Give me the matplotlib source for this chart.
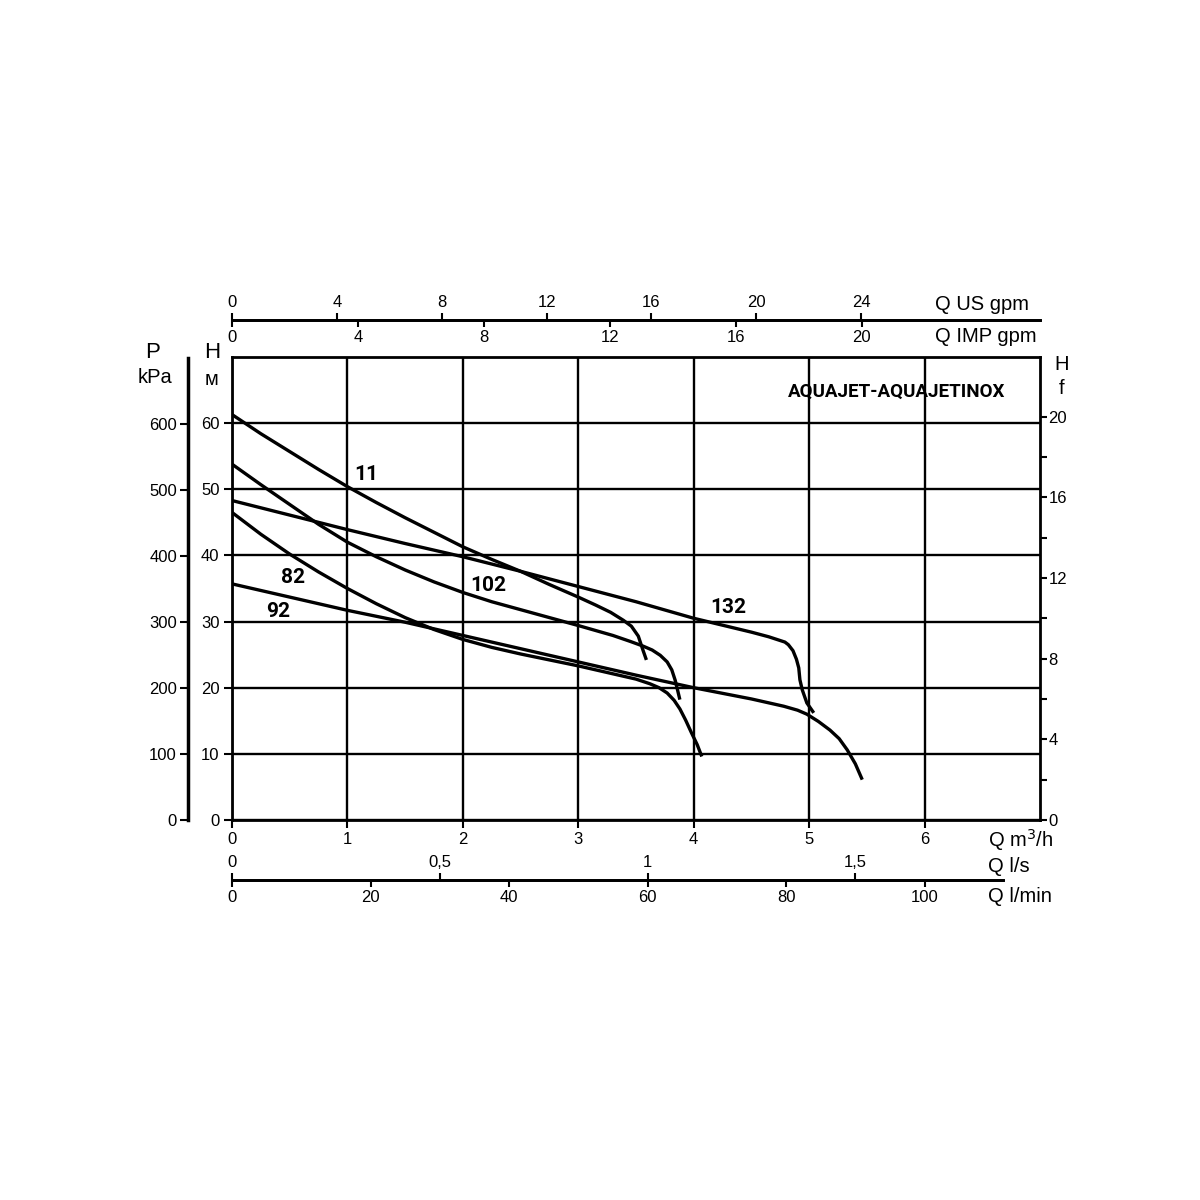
import numpy as np
import matplotlib
matplotlib.use('Agg')
import matplotlib.pyplot as plt
from matplotlib.ticker import FixedLocator, FuncFormatter

plt.rc('font', family=['Liberation Sans', 'DejaVu Sans'], size=12)

# curves, Q in m3/h, H in m
q_11 = [0, 0.25, 0.5, 0.75, 1.0, 1.25, 1.5, 1.75, 2.0, 2.25, 2.5, 2.75, 3.0, 3.15, 3.28, 3.39, 3.46, 3.52, 3.56, 3.59]
h_11 = [61.3, 58.4, 55.7, 53.0, 50.4, 48.0, 45.7, 43.5, 41.3, 39.4, 37.6, 35.6, 33.7, 32.5, 31.4, 30.2, 29.3, 27.8, 25.7, 24.2]

q_102 = [0, 0.25, 0.5, 0.75, 1.0, 1.25, 1.5, 1.75, 2.0, 2.25, 2.5, 2.75, 3.0, 3.3, 3.45, 3.56, 3.64, 3.71, 3.77, 3.81, 3.84, 3.88]
h_102 = [53.8, 50.7, 47.7, 44.7, 42.0, 39.8, 37.8, 36.0, 34.4, 33.0, 31.8, 30.6, 29.4, 27.9, 27.0, 26.3, 25.7, 24.9, 23.9, 22.7, 21.1, 18.2]

q_132 = [0, 0.5, 1.0, 1.5, 2.0, 2.5, 3.0, 3.5, 4.0, 4.5, 4.65, 4.72, 4.79, 4.82, 4.86, 4.89, 4.91, 4.92, 4.94, 4.98, 5.04]
h_132 = [48.3, 46.1, 43.9, 41.8, 39.8, 37.6, 35.3, 33.0, 30.5, 28.4, 27.7, 27.3, 26.9, 26.5, 25.6, 24.3, 23.0, 21.2, 19.7, 17.7, 16.2]

q_82 = [0, 0.25, 0.5, 0.75, 1.0, 1.25, 1.5, 1.75, 2.0, 2.25, 2.5, 2.75, 3.0, 3.25, 3.5, 3.62, 3.7, 3.77, 3.83, 3.88, 3.93, 3.98, 4.03, 4.07]
h_82 = [46.5, 43.2, 40.2, 37.5, 35.0, 32.7, 30.6, 28.8, 27.3, 26.1, 25.1, 24.2, 23.3, 22.3, 21.3, 20.6, 20.0, 19.2, 18.1, 16.8, 15.1, 13.2, 11.4, 9.6]

q_92 = [0, 0.5, 1.0, 1.5, 2.0, 2.5, 3.0, 3.5, 4.0, 4.5, 4.78, 4.9, 4.98, 5.08, 5.18, 5.26, 5.33, 5.4, 5.46]
h_92 = [35.7, 33.7, 31.7, 29.9, 27.9, 25.9, 23.9, 21.9, 20.0, 18.3, 17.2, 16.6, 16.0, 14.9, 13.6, 12.3, 10.6, 8.5, 6.1]

curve_names = ['11', '102', '132', '82', '92']
label_pos = [(1.16, 52.3), (2.22, 35.5), (4.3, 32.2), (0.53, 36.6), (0.4, 31.5)]

q_ticks = [0, 1, 2, 3, 4, 5, 6]
h_ticks = [0, 10, 20, 30, 40, 50, 60]
p_ticks = [0, 100, 200, 300, 400, 500, 600]
ft_ticks = [0, 4, 8, 12, 16, 20]
ft_minor = [2, 6, 10, 14, 18]
usgpm_ticks = [0, 4, 8, 12, 16, 20, 24]
impgpm_ticks = [0, 4, 8, 12, 16, 20]
ls_ticks = [0, 0.5, 1, 1.5]
lmin_ticks = [0, 20, 40, 60, 80, 100]

# unit conversions to m3/h and m
M3H_USGPM = 0.22712
M3H_IMPGPM = 0.27277
M3H_LS = 3.6
M3H_LMIN = 0.06
M_10FT = 3.048
KPA_M = 10.0

QMAX, HMAX = 7.0, 70.0
W = 1200.0
cond = dict(family=['Roboto', 'DejaVu Sans'], weight='bold')


def fx(px):
    return px / W


def fy(py):
    return 1 - py / W


fig = plt.figure(figsize=(12, 12), dpi=100)
L, R, T, B = 232, 1040, 357, 820
ax = fig.add_axes([fx(L), fy(B), fx(R - L), fy(T) - fy(B)])
ax.set_xlim(0, QMAX)
ax.set_ylim(0, HMAX)
for s in ax.spines.values():
    s.set_linewidth(2)
ax.set_xticks(q_ticks)
ax.set_yticks(h_ticks)
ax.tick_params(direction='out', length=6, width=1.5, labelsize=12, pad=3)
ax.grid(True, color='black', lw=1.7)
ax.set_axisbelow(True)

for q, h in [(q_11, h_11), (q_102, h_102), (q_132, h_132), (q_82, h_82), (q_92, h_92)]:
    ax.plot(q, h, color='black', lw=2.4, solid_capstyle='butt', solid_joinstyle='round')
for name, (x, y) in zip(curve_names, label_pos):
    ax.text(x, y, name, fontsize=15, ha='center', va='center', **cond)
ax.text(5.76, 64.7, 'AQUAJET-AQUAJETINOX', fontsize=13.5, ha='center', va='center', **cond)

# right axis, H in tens of feet
axr = ax.twinx()
axr.set_ylim(0, HMAX / M_10FT)
axr.yaxis.set_major_locator(FixedLocator(ft_ticks))
axr.yaxis.set_minor_locator(FixedLocator(ft_minor))
axr.tick_params(which='both', direction='out', length=5, width=1.5, labelsize=12, pad=1)
for s in axr.spines.values():
    s.set_visible(False)

# left pressure axis
axp = fig.add_axes([fx(188), fy(B), 0.001, fy(358) - fy(B)])
axp.set_ylim(0, HMAX * KPA_M)
axp.set_yticks(p_ticks)
axp.set_xticks([])
for k in ['top', 'right', 'bottom']:
    axp.spines[k].set_visible(False)
axp.spines['left'].set_linewidth(2.5)
axp.tick_params(direction='out', length=6, width=1.5, labelsize=12, pad=2)
axp.patch.set_visible(False)


def flat_axis(y_px, x_end_px, lim, ticks, side, fmt=None):
    a = fig.add_axes([fx(L), fy(y_px), fx(x_end_px - L), 1e-5])
    a.set_xlim(0, lim)
    a.set_yticks([])
    a.patch.set_visible(False)
    for k in ['left', 'right']:
        a.spines[k].set_visible(False)
    a.spines['top' if side == 'bottom' else 'bottom'].set_visible(False)
    a.spines[side].set_linewidth(2)
    a.xaxis.set_ticks_position(side)
    a.xaxis.set_label_position(side)
    a.set_xticks(ticks)
    if fmt:
        a.xaxis.set_major_formatter(FuncFormatter(fmt))
    a.tick_params(direction='out', length=5, width=1.5, labelsize=12, pad=2)
    return a


qline_top = QMAX
flat_axis(320, R, qline_top / M3H_USGPM, usgpm_ticks, 'top')
flat_axis(320, R, qline_top / M3H_IMPGPM, impgpm_ticks, 'bottom')
qline_bot = (1003 - L) / (R - L) * QMAX
comma = lambda v, p: ('%g' % v).replace('.', ',')
flat_axis(880, 1003, qline_bot / M3H_LS, ls_ticks, 'top', comma)
flat_axis(880, 1003, qline_bot / M3H_LMIN, lmin_ticks, 'bottom')

lab = dict(fontsize=14.5, ha='left', va='center')
fig.text(fx(935), fy(304), 'Q US gpm', **lab)
fig.text(fx(935), fy(336), 'Q IMP gpm', **lab)
fig.text(fx(988), fy(840), 'Q m$^3$/h', **lab)
fig.text(fx(988), fy(866), 'Q l/s', **lab)
fig.text(fx(988), fy(897), 'Q l/min', **lab)

fig.text(fx(153), fy(352), 'P', fontsize=16, ha='center', va='center')
fig.text(fx(155), fy(378), 'kPa', fontsize=14.5, ha='center', va='center')
fig.text(fx(212), fy(352), 'H', fontsize=16, ha='center', va='center')
fig.text(fx(212), fy(379), 'м', fontsize=14.5, ha='center', va='center')
fig.text(fx(1062), fy(364), 'H', fontsize=14.5, ha='center', va='center')
fig.text(fx(1062), fy(389), 'f', fontsize=14.5, ha='center', va='center')

fig.savefig('out.png', dpi=100, facecolor='white')
